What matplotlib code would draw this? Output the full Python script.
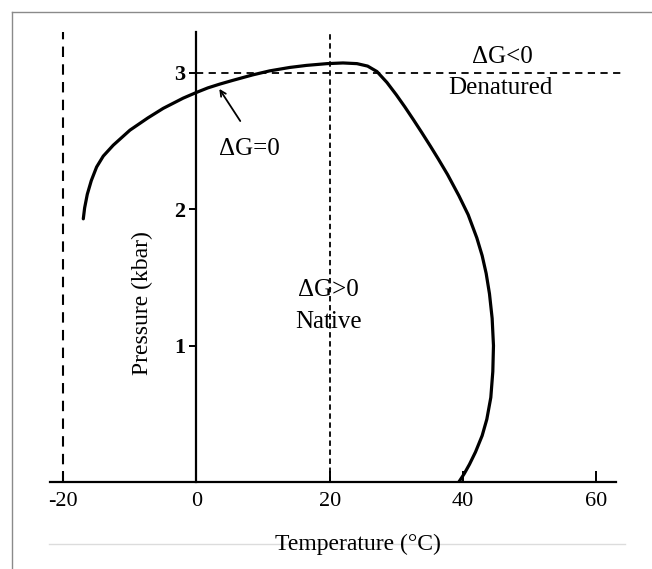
import matplotlib
matplotlib.use('Agg')
import matplotlib.pyplot as plt
from matplotlib.lines import Line2D

plt.rcParams['font.family'] = ['Liberation Serif', 'DejaVu Serif']

# Delta G = 0 boundary (temperature in C, pressure in kbar)
temp = [-17.0, -16.8, -16.4, -15.8, -15.0, -14.0, -12.5, -10.0, -7.3, -5.0,
        -2.0, 0.0, 1.7, 3.5, 5.5, 8.4, 11.0, 14.0, 16.5, 19.6, 22.0, 24.1,
        25.7, 27.1, 28.6, 30.0, 31.3, 32.6, 33.8, 35.1, 36.3, 37.7, 39.4,
        40.8, 42.1, 42.9, 43.5, 44.0, 44.4, 44.6, 44.5, 44.2, 43.6, 42.9,
        41.9, 41.0, 40.2, 39.4]
pres = [1.93, 2.01, 2.11, 2.21, 2.31, 2.39, 2.47, 2.58, 2.67, 2.74,
        2.815, 2.857, 2.89, 2.918, 2.946, 2.985, 3.015, 3.04, 3.055, 3.068, 3.073, 3.068,
        3.05, 3.01, 2.93, 2.84, 2.75, 2.655, 2.565, 2.465, 2.37, 2.255, 2.10,
        1.96, 1.79, 1.66, 1.53, 1.38, 1.20, 1.00, 0.81, 0.62, 0.46, 0.34,
        0.22, 0.13, 0.06, 0.0]

xticks = [-20, 0, 20, 40, 60]
xticklabels = ['-20', '0', '20', '40', '60']
yticks = [1, 2, 3]

fig = plt.figure(figsize=(6.52, 5.69), dpi=100)
ax = fig.add_axes([50/652, 87/569, 566/652, 450/569])
ax.set_xlim(-22, 63)
ax.set_ylim(0, 3.3)

# outer frame of the picture
fig.add_artist(Line2D([12/652, 1], [1-12/569, 1-12/569], color='#8a8a8a', lw=1.0))
fig.add_artist(Line2D([12/652, 12/652], [0, 1-12/569], color='#8a8a8a', lw=1.0))
fig.add_artist(Line2D([49/652, 625/652], [1-544/569, 1-544/569], color='#dcdcdc', lw=1.0))

for s in ['top', 'right']:
    ax.spines[s].set_visible(False)
ax.spines['left'].set_position(('data', 0))
ax.spines['left'].set_linewidth(1.6)
ax.spines['bottom'].set_linewidth(1.6)

ax.set_xticks(xticks)
ax.set_xticklabels(xticklabels, fontsize=16)
ax.set_yticks(yticks)
ax.set_yticklabels([str(v) for v in yticks], fontsize=16, fontweight='bold')
ax.tick_params(axis='x', direction='in', length=8, width=1.4, pad=7)
ax.tick_params(axis='y', direction='out', length=5, width=1.4, pad=3)

# reference lines
ax.plot([-20, -20], [0, 3.3], color='black', lw=1.5, ls=(0, (5, 3.5)))
ax.plot([20, 20], [0, 3.3], color='black', lw=1.3, ls=(0, (3, 2)))
ax.plot([0, 64.4], [3, 3], color='black', lw=1.3, ls=(0, (4, 3)), clip_on=False)

ax.plot(temp, pres, color='black', lw=2.3, solid_capstyle='round',
        solid_joinstyle='round')

ax.annotate('', xy=(3.2, 2.90), xytext=(6.8, 2.63),
            arrowprops=dict(arrowstyle='->', color='black', lw=1.3))
ax.text(8.0, 2.44, '\u0394G=0', fontsize=18, ha='center', va='center')
ax.text(46.0, 3.12, '\u0394G<0', fontsize=18, ha='center', va='center')
ax.text(45.7, 2.89, 'Denatured', fontsize=18, ha='center', va='center')
ax.text(19.8, 1.41, '\u0394G>0', fontsize=18, ha='center', va='center')
ax.text(19.9, 1.17, 'Native', fontsize=18, ha='center', va='center')
ax.text(-8.1, 1.31, 'Pressure (kbar)', fontsize=17, rotation=90,
        ha='center', va='center')
fig.text(358/652, 1-544/569, 'Temperature (\u00b0C)', fontsize=17,
         ha='center', va='center')

plt.savefig('out.png', dpi=100)
